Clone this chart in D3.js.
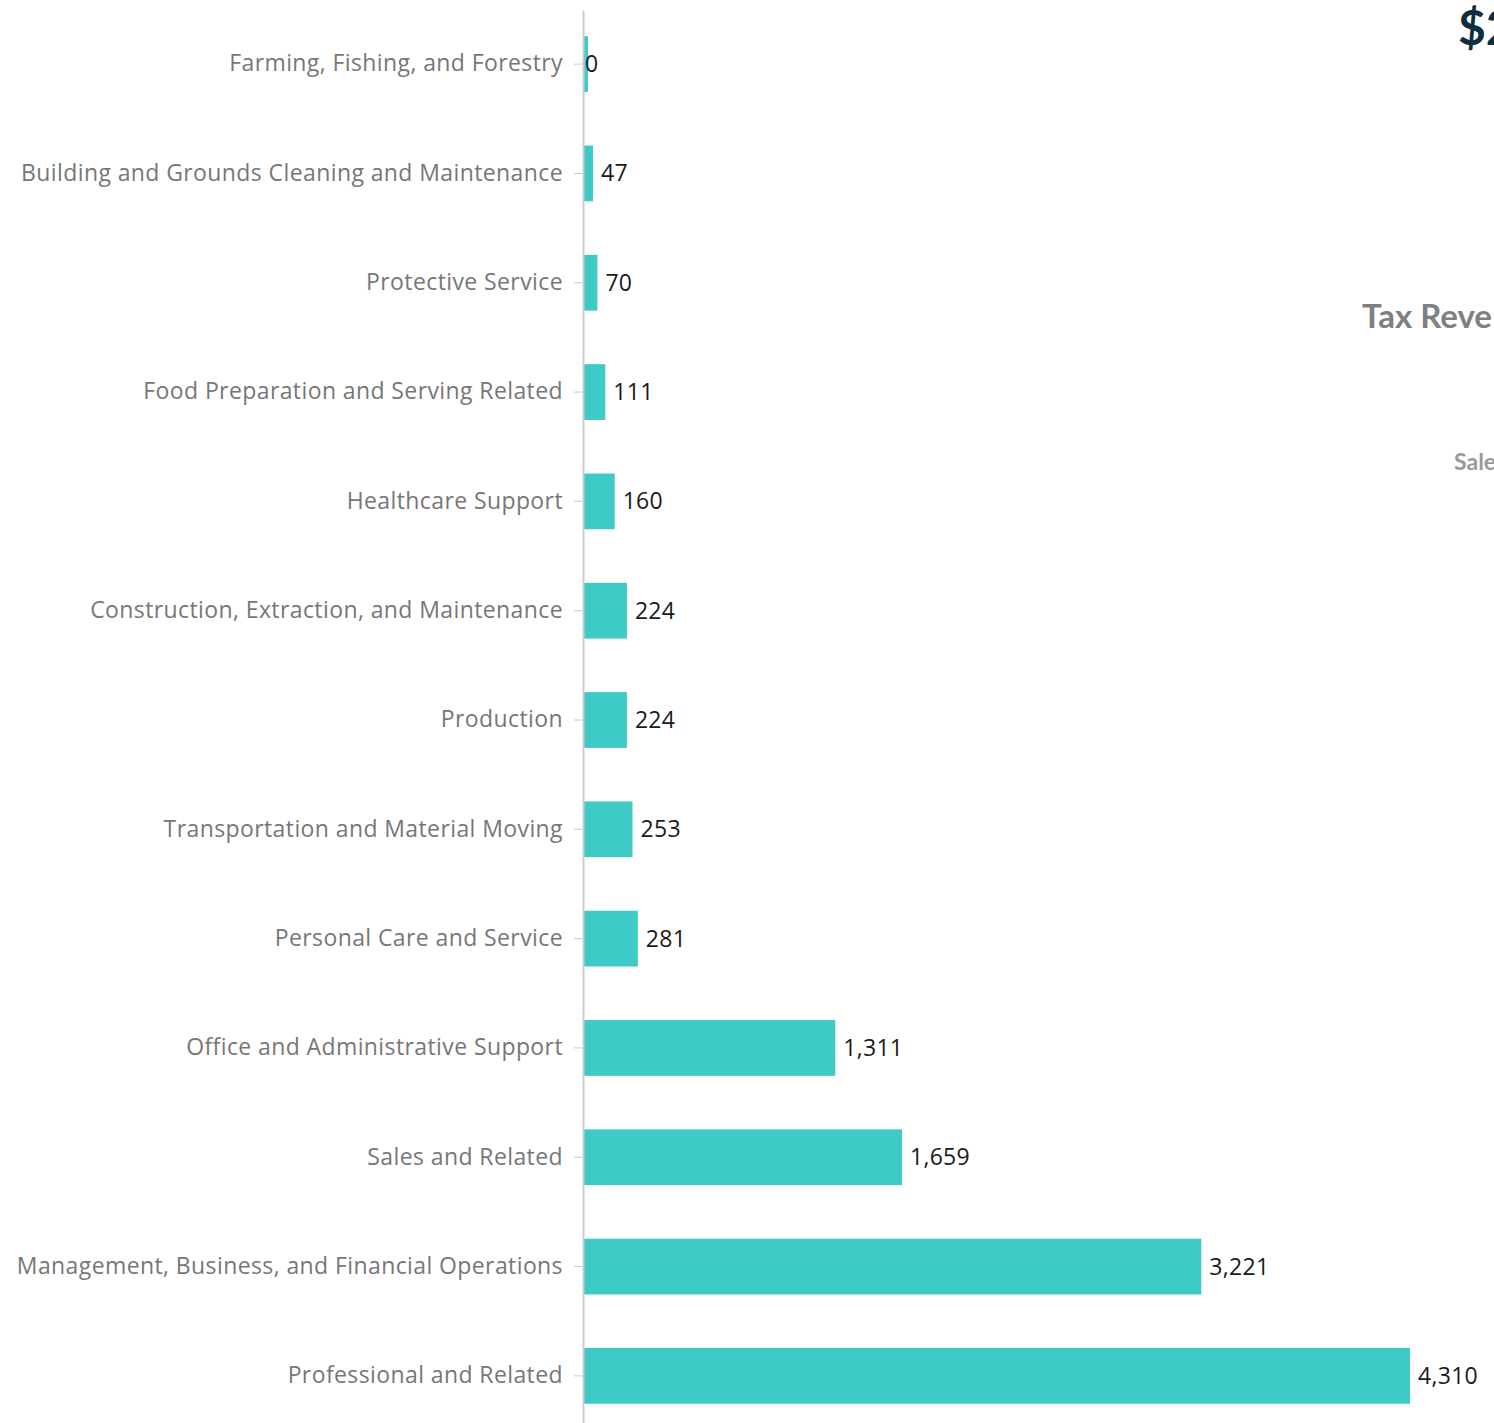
<!DOCTYPE html>
<html lang="en">
<head>
<meta charset="utf-8">
<title>Occupations</title>
<script src="https://d3js.org/d3.v7.min.js"></script>
<style>
    html, body {
        margin: 0;
        padding: 0;
        overflow: hidden;
        background: #fff;
    }
    svg {
        display: block;
        font-family: "Open Sans", "Noto Sans", sans-serif;
    }
    .y.axis path,
    .y.axis line {
        stroke: #cccccc;
    }
    .y.axis path {
        stroke-width: 2px;
    }
    .y.axis text {
        fill: #777;
        font-size: 23px;
        letter-spacing: 0.4px;
        font-family: "Open Sans", sans-serif;
    }
    .value-label {
        fill: #1a1a1a;
        font-size: 23px;
        letter-spacing: 0.3px;
    }
    .side {
        font-family: "Lato", sans-serif;
        font-weight: bold;
    }
</style>
</head>
<body>
<svg id="chart" width="1494" height="1423"></svg>

<script>
    // occupations, top to bottom
    const categories = [
        "Farming, Fishing, and Forestry",
        "Building and Grounds Cleaning and Maintenance",
        "Protective Service",
        "Food Preparation and Serving Related",
        "Healthcare Support",
        "Construction, Extraction, and Maintenance",
        "Production",
        "Transportation and Material Moving",
        "Personal Care and Service",
        "Office and Administrative Support",
        "Sales and Related",
        "Management, Business, and Financial Operations",
        "Professional and Related"
    ];
    const values = [0, 47, 70, 111, 160, 224, 224, 253, 281, 1311, 1659, 3221, 4310];

    // side panel, only its left edge is visible
    const sideBig = "$2";
    const sideTitle = "Tax Reve";
    const sideSub = "Sale";

    const margin = {top: 10, left: 583};
    const barWidthMax = 826;

    const svg = d3.select("#chart");
    const g = svg.append("g")
        .attr("transform", `translate(${margin.left},${margin.top})`);

    const x = d3.scaleLinear()
        .domain([0, d3.max(values)])
        .range([0, barWidthMax]);

    const y = d3.scaleBand()
        .domain(categories)
        .range([0, 1420])
        .paddingInner(0.49)
        .paddingOuter(0.24);

    const yAxis = d3.axisLeft(y)
        .tickSize(9)
        .tickSizeOuter(0)
        .tickPadding(11);

    const data = categories.map((c, i) => ({name: c, value: values[i]}));

    g.selectAll("rect.bar")
        .data(data)
        .enter()
        .append("rect")
        .attr("class", "bar")
        .attr("x", 1)
        .attr("y", d => y(d.name))
        .attr("height", y.bandwidth())
        .attr("width", d => Math.max(4, x(d.value)))
        .attr("fill", "#3ecac6");

    g.append("g")
        .attr("class", "y axis")
        .call(yAxis);

    g.selectAll("text.value-label")
        .data(data)
        .enter()
        .append("text")
        .attr("class", "value-label")
        .attr("x", d => d.value === 0 ? 2 : x(d.value) + 9)
        .attr("y", d => y(d.name) + y.bandwidth() / 2)
        .attr("dy", "0.35em")
        .text(d => d3.format(",")(d.value));

    svg.append("text")
        .attr("class", "side")
        .attr("x", 1458)
        .attr("y", 45)
        .attr("fill", "#0e2d3d")
        .style("font-size", "48px")
        .text(sideBig);

    svg.append("text")
        .attr("class", "side")
        .attr("x", 1362)
        .attr("y", 328)
        .attr("fill", "#808080")
        .style("font-size", "33px")
        .text(sideTitle);

    svg.append("text")
        .attr("class", "side")
        .attr("x", 1454)
        .attr("y", 470)
        .attr("fill", "#999")
        .style("font-size", "23px")
        .text(sideSub);
</script>
</body>
</html>
